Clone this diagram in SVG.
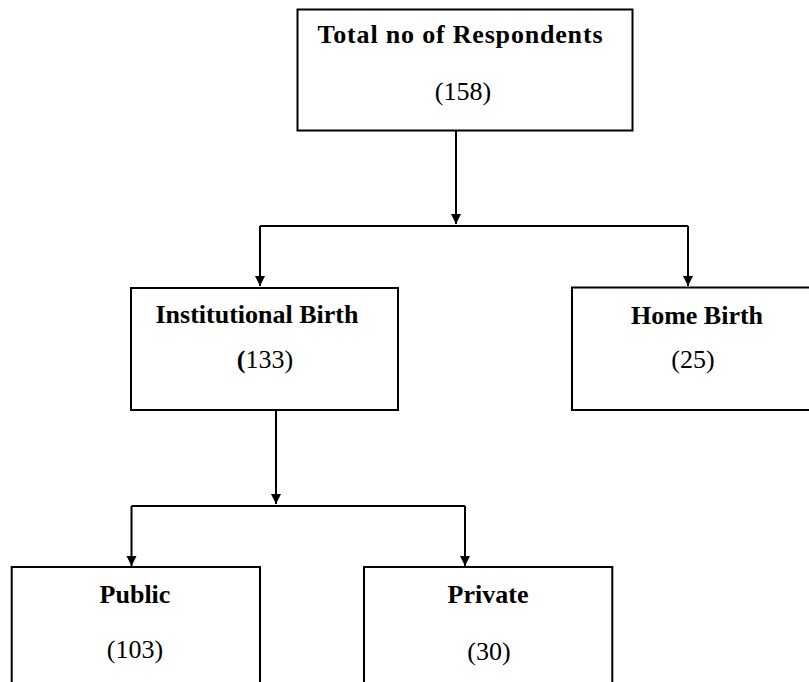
<svg xmlns="http://www.w3.org/2000/svg" width="809" height="682" viewBox="0 0 809 682">
<style>
.box{fill:#fff;stroke:#000;stroke-width:2}
.t{font-family:"Liberation Serif","Times New Roman",serif;font-size:26px;fill:#000;text-anchor:middle}
.b{font-weight:bold}
.c{fill:none;stroke:#000;stroke-width:2}
</style>
<defs>
<marker id="arr" markerUnits="userSpaceOnUse" markerWidth="12" markerHeight="12" viewBox="0 0 12 12" refX="10" refY="6" orient="auto">
<path d="M0,1 L10,6 L0,11 Z" fill="#000"/>
</marker>
</defs>
<rect width="809" height="682" fill="#fff"/>
<g id="connectors">
<path class="c" d="M456,131 V224" marker-end="url(#arr)"/>
<path class="c" d="M260,226 H688"/>
<path class="c" d="M260,226 V286" marker-end="url(#arr)"/>
<path class="c" d="M688,226 V286" marker-end="url(#arr)"/>
<path class="c" d="M276,411 V504" marker-end="url(#arr)"/>
<path class="c" d="M131.5,506 H465"/>
<path class="c" d="M131.5,506 V566" marker-end="url(#arr)"/>
<path class="c" d="M465,506 V566" marker-end="url(#arr)"/>
</g>
<g id="total">
<rect class="box" x="297.5" y="9.5" width="335" height="121"/>
<text class="t b" x="460" y="43" textLength="285" lengthAdjust="spacing">Total no of Respondents</text>
<text class="t" x="463" y="100">(158)</text>
</g>
<g id="institutional">
<rect class="box" x="131" y="288" width="267" height="122"/>
<text class="t b" x="257" y="323">Institutional Birth</text>
<text class="t" x="265" y="368"><tspan font-weight="bold">(</tspan>133)</text>
</g>
<g id="home">
<rect class="box" x="572" y="287.5" width="240" height="122.5"/>
<text class="t b" x="697" y="324">Home Birth</text>
<text class="t" x="693" y="368">(25)</text>
</g>
<g id="public">
<rect class="box" x="11.7" y="567" width="248.3" height="130"/>
<text class="t b" x="135" y="603">Public</text>
<text class="t" x="135" y="658">(103)</text>
</g>
<g id="private">
<rect class="box" x="364" y="567" width="248.3" height="130"/>
<text class="t b" x="488" y="603">Private</text>
<text class="t" x="489" y="660">(30)</text>
</g>
</svg>
